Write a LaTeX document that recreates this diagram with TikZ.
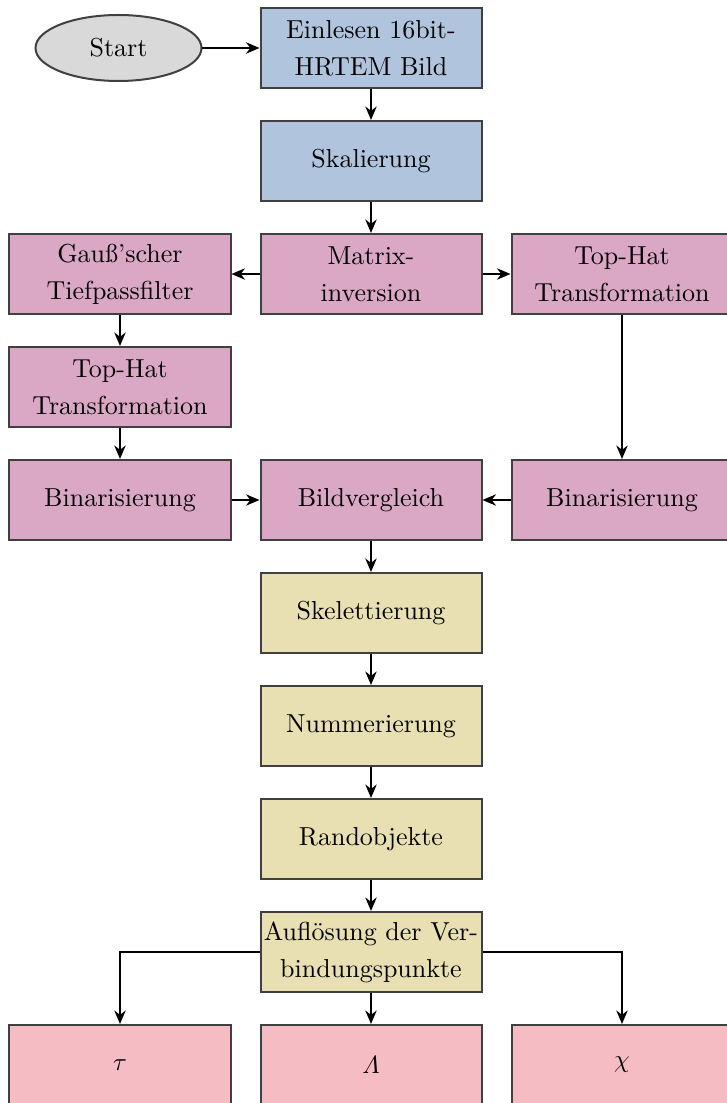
\documentclass[tikz,border=0pt]{standalone}
\usepackage{fontspec}
\usepackage{amsmath}
\usetikzlibrary{shapes.geometric, arrows.meta, positioning, calc}

\definecolor{startgray}{RGB}{217,217,217}
\definecolor{inblue}{RGB}{176,196,222}
\definecolor{prepurple}{RGB}{218,167,197}
\definecolor{postyellow}{RGB}{232,224,178}
\definecolor{outpink}{RGB}{245,188,195}

\begin{document}
\begin{tikzpicture}[
    auto,
    node distance=12.4pt and 11.2pt,
    startnode/.style = {ellipse, draw=black!75, line width=0.8pt, fill=startgray, minimum width=66.4pt, minimum height=26.4pt, inner sep=0pt, font=\fontsize{10.4}{14.8}\selectfont},
    input/.style = {rectangle, draw=black!75, line width=0.8pt, fill=inblue, minimum width=88.4pt, minimum height=32pt, align=center, inner sep=2pt, font=\fontsize{10.4}{14.8}\selectfont},
    filter/.style = {input, fill=prepurple},
    analysis/.style = {input, fill=postyellow},
    result/.style = {input, fill=outpink},
    line/.style = {draw, line width=0.8pt, -{Stealth[length=1.9mm,width=1.6mm]}},
]

\useasboundingbox (-148.4pt,19.2pt) rectangle (142pt,-422pt);

% Input
\node [input] (read) at (0,0) {Einlesen 16bit-\\HRTEM Bild};
\node [startnode, left=22.8pt of read] (start) {Start};
\node [input, below=of read] (scale) {Skalierung};

% Filtering
\node [filter, below=of scale] (invert) {Matrix-\\inversion};
\node [filter, left=of invert] (gauss) {Gauß'scher\\Tiefpassfilter};
\node [filter, right=of invert] (tophatr) {Top-Hat\\Transformation};
\node [filter, below=of gauss] (tophatl) {Top-Hat\\Transformation};
\node [filter, below=of tophatl] (binl) {Binarisierung};
\node [filter, right=of binl] (compare) {Bildvergleich};
\node [filter, right=of compare] (binr) {Binarisierung};

% Analysis
\node [analysis, below=of compare] (skel) {Skelettierung};
\node [analysis, below=of skel] (number) {Nummerierung};
\node [analysis, below=of number] (border) {Randobjekte};
\node [analysis, below=of border, inner xsep=0.5pt] (resolve) {Auflösung der Ver-\\bindungspunkte};

% Results
\node [result, below=of resolve] (lambda) {$\varLambda$};
\node [result, left=of lambda] (tau) {$\tau$};
\node [result, right=of lambda] (chi) {$\chi$};

% Paths
\path [line] (start) -- (read);
\path [line] (read) -- (scale);
\path [line] (scale) -- (invert);
\path [line] (invert) -- (gauss);
\path [line] (invert) -- (tophatr);
\path [line] (gauss) -- (tophatl);
\path [line] (tophatl) -- (binl);
\path [line] (tophatr) -- (binr);
\path [line] (binl) -- (compare);
\path [line] (binr) -- (compare);

\path [line] (compare) -- (skel);
\path [line] (skel) -- (number);
\path [line] (number) -- (border);
\path [line] (border) -- (resolve);

\path [line] (resolve.west) -| (tau.north);
\path [line] (resolve) -- (lambda);
\path [line] (resolve.east) -| (chi.north);

\end{tikzpicture}
\end{document}
